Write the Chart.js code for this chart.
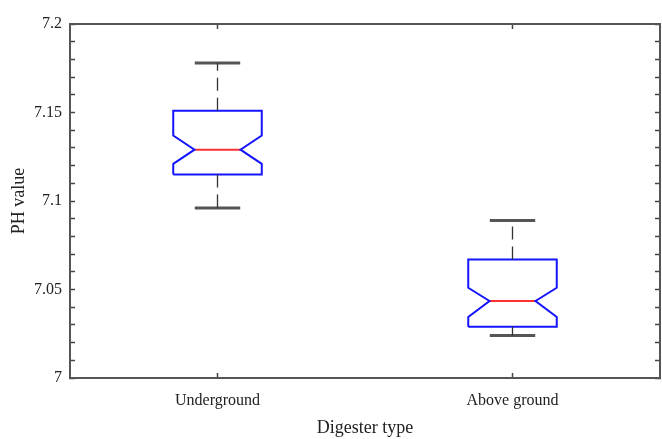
<!DOCTYPE html>
<html>
<head>
<meta charset="utf-8">
<script src="https://cdn.jsdelivr.net/npm/chart.js@4"></script>
<style>
  body { margin: 0; background: #fff; }
  #wrap { width: 662px; height: 439px; }
</style>
</head>
<body>
<div id="wrap"><canvas id="phChart"></canvas></div>
<script>
// Digester groups and box statistics
const categories = ["Underground", "Above ground"];
const positions = [1, 2];
const whiskerLow = [7.096, 7.024];
const q1 = [7.115, 7.029];
const notchLow = [7.121, 7.0345];
const median = [7.129, 7.0435];
const notchHigh = [7.137, 7.051];
const q3 = [7.151, 7.067];
const whiskerHigh = [7.178, 7.089];
const yTicks = [7, 7.05, 7.1, 7.15, 7.2];

// half widths in x units
const boxHalf = 0.15;
const notchHalf = 0.078;
const capHalf = 0.077;

const serif = "'Liberation Serif', 'DejaVu Serif', serif";

function line(points, color, width, dash) {
    return {
        data: points,
        showLine: true,
        borderColor: color,
        borderWidth: width,
        borderDash: dash || [],
        pointRadius: 0,
        fill: false,
        tension: 0
    };
}

const datasets = [];
positions.forEach((x, i) => {
    // whiskers
    datasets.push(line([{x: x, y: q3[i]}, {x: x, y: whiskerHigh[i]}], "#333", 1.3, [13, 7]));
    datasets.push(line([{x: x, y: q1[i]}, {x: x, y: whiskerLow[i]}], "#333", 1.3, [13, 7]));
    // caps
    datasets.push(line([{x: x - capHalf, y: whiskerHigh[i]}, {x: x + capHalf, y: whiskerHigh[i]}], "#555", 3));
    datasets.push(line([{x: x - capHalf, y: whiskerLow[i]}, {x: x + capHalf, y: whiskerLow[i]}], "#555", 3));
    // notched box
    datasets.push(line([
        {x: x - boxHalf, y: q1[i]},
        {x: x - boxHalf, y: notchLow[i]},
        {x: x - notchHalf, y: median[i]},
        {x: x - boxHalf, y: notchHigh[i]},
        {x: x - boxHalf, y: q3[i]},
        {x: x + boxHalf, y: q3[i]},
        {x: x + boxHalf, y: notchHigh[i]},
        {x: x + notchHalf, y: median[i]},
        {x: x + boxHalf, y: notchLow[i]},
        {x: x + boxHalf, y: q1[i]},
        {x: x - boxHalf, y: q1[i]}
    ], "#1414ff", 2));
    // median
    datasets.push(line([{x: x - notchHalf, y: median[i]}, {x: x + notchHalf, y: median[i]}], "#ff3030", 2));
});

const axisGrid = {
    drawOnChartArea: false,
    drawTicks: true,
    tickLength: -5,
    tickColor: "#444",
    tickWidth: 1.5
};
const axisBorder = { display: true, color: "#555", width: 2 };

const catTicks = scale => { scale.ticks = positions.map(v => ({ value: v })); };
const yStepTicks = scale => {
    const t = [];
    for (let k = 0; k <= 20; k++) t.push({ value: 7 + k / 100 });
    scale.ticks = t;
};

new Chart(document.getElementById("phChart"), {
    type: "scatter",
    data: { datasets: datasets },
    options: {
        responsive: true,
        maintainAspectRatio: false,
        animation: false,
        layout: { padding: 0 },
        plugins: { legend: { display: false }, tooltip: { enabled: false } },
        scales: {
            x: {
                type: "linear", position: "bottom", min: 0.5, max: 2.5,
                afterBuildTicks: catTicks,
                afterFit: s => { s.height = 61; },
                grid: axisGrid, border: axisBorder,
                ticks: {
                    padding: 18, color: "#222", maxRotation: 0, autoSkip: false,
                    font: { family: serif, size: 16 },
                    callback: v => categories[positions.indexOf(v)] || ""
                },
                title: {
                    display: true, text: "Digester type", color: "#222",
                    font: { family: serif, size: 18 }, padding: { top: 0, bottom: 0 }
                }
            },
            x2: {
                type: "linear", position: "top", min: 0.5, max: 2.5,
                afterBuildTicks: catTicks,
                afterFit: s => { s.height = 24; },
                grid: axisGrid, border: axisBorder,
                ticks: { display: false, autoSkip: false }
            },
            y: {
                type: "linear", position: "left", min: 7, max: 7.2,
                afterBuildTicks: yStepTicks,
                afterFit: s => { s.width = 70; },
                grid: axisGrid, border: axisBorder,
                ticks: {
                    padding: 13, color: "#222", autoSkip: false,
                    font: { family: serif, size: 16 },
                    callback: v => {
                        const r = Math.round(v * 100) / 100;
                        return yTicks.some(t => Math.abs(t - r) < 1e-9) ? String(r) : "";
                    }
                },
                title: {
                    display: true, text: "PH value", color: "#222",
                    font: { family: serif, size: 18 }, padding: { top: 8, bottom: 0 }
                }
            },
            y2: {
                type: "linear", position: "right", min: 7, max: 7.2,
                afterBuildTicks: yStepTicks,
                afterFit: s => { s.width = 2; },
                grid: axisGrid, border: axisBorder,
                ticks: { display: false, autoSkip: false }
            }
        }
    }
});
</script>
</body>
</html>
